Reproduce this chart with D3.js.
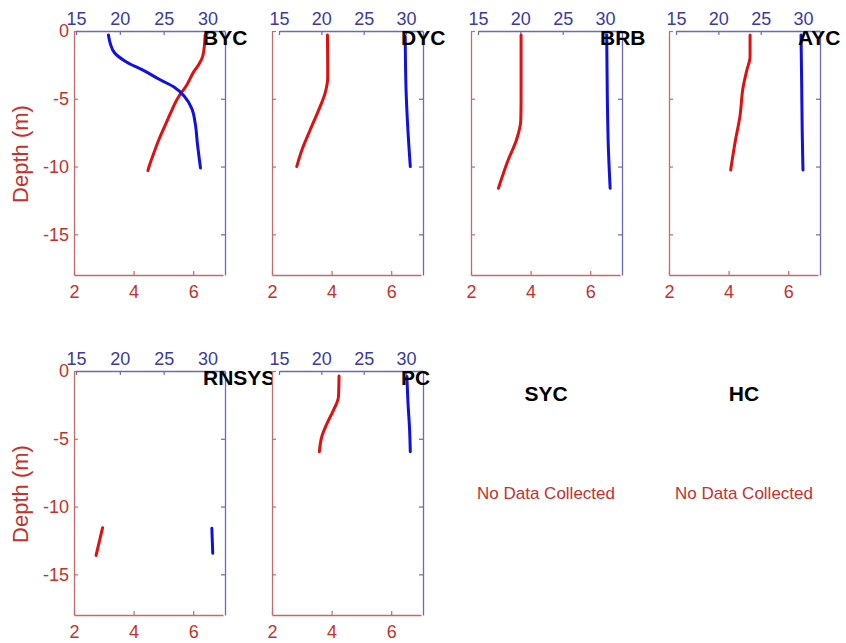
<!DOCTYPE html>
<html><head><meta charset="utf-8">
<script src="https://cdn.jsdelivr.net/npm/d3@7"></script>
<style>body{margin:0;background:#fff}svg{display:block}text{font-family:"Liberation Sans",Arial,sans-serif}</style>
</head><body><svg id="c" width="846" height="643"></svg>
<script>
// ---- data ----
const stations = ["BYC","DYC","BRB","AYC","RNSYS","PC","SYC","HC"];
const depthTicks = [0,-5,-10,-15];
const doTicks = [2,4,6];
const tempTicks = [15,20,25,30];
const doDomain = [2,7];
const tempDomain = [15,32];
const depthDomain = [-18,0];
const noDataText = "No Data Collected";
const yLabel = "Depth (m)";

// dissolved oxygen (bottom red axis) profiles: depth (m, positive down) and value
const BYC_doDepth = [0.3,1,2,2.5,3,4,5,6,7,8,9,10,10.3];
const BYC_do      = [6.40,6.38,6.30,6.18,6.02,5.78,5.47,5.25,5.05,4.85,4.68,4.52,4.48];
const BYC_tDepth  = [0.3,0.9,1.65,2.3,2.9,3.6,4.1,4.85,5.7,6.8,8.3,10.1];
const BYC_temp    = [18.7,18.9,19.45,20.8,22.7,24.6,26.1,27.4,28.2,28.6,28.85,29.2];

const DYC_doDepth = [0.3,3.4,4.6,5.6,7.3,8.8,10.0];
const DYC_do      = [3.86,3.87,3.78,3.61,3.28,3.0,2.83];
const DYC_tDepth  = [0.4,4.35,7.1,10.0];
const DYC_temp    = [29.9,30.0,30.2,30.5];

const BRB_doDepth = [0.3,5.1,6.6,8.0,9.5,11.6];
const BRB_do      = [3.68,3.68,3.67,3.53,3.25,2.92];
const BRB_tDepth  = [0.3,5.1,8.8,11.6];
const BRB_temp    = [30.2,30.27,30.4,30.6];

const AYC_doDepth = [0.3,1.9,2.9,4.1,6.3,8.3,10.25];
const AYC_do      = [4.72,4.72,4.61,4.49,4.38,4.21,4.07];
const AYC_tDepth  = [0.3,4.1,7.4,10.25];
const AYC_temp    = [29.76,29.84,29.9,29.99];

const RNSYS_doDepth = [11.56,13.6];
const RNSYS_do      = [2.96,2.74];
const RNSYS_tDepth  = [11.6,13.45];
const RNSYS_temp    = [30.5,30.6];

const PC_doDepth = [0.37,1.9,2.9,3.9,4.85,5.95];
const PC_do      = [4.25,4.23,4.06,3.84,3.67,3.59];
const PC_tDepth  = [0.4,2.6,4.1,5.95];
const PC_temp    = [30.1,30.25,30.4,30.5];

const profiles = {
  BYC:[BYC_doDepth,BYC_do,BYC_tDepth,BYC_temp],
  DYC:[DYC_doDepth,DYC_do,DYC_tDepth,DYC_temp],
  BRB:[BRB_doDepth,BRB_do,BRB_tDepth,BRB_temp],
  AYC:[AYC_doDepth,AYC_do,AYC_tDepth,AYC_temp],
  RNSYS:[RNSYS_doDepth,RNSYS_do,RNSYS_tDepth,RNSYS_temp],
  PC:[PC_doDepth,PC_do,PC_tDepth,PC_temp]
};

// ---- layout ----
const lefts = [74,272,471,669];
const tops = [31,371];
const W = 149, H = 244;
const RED_AX = "#c46a6a", BLUE_AX = "#6a6ab8";
const RED_TX = "#c8302c", BLUE_TX = "#3a3aa6";
const RED_LN = "#e01010", BLUE_LN = "#1010e0";
const fmt = v => String(v);

const svg = d3.select("#c");

stations.forEach((name,i)=>{
  const col = i%4, row = Math.floor(i/4);
  const L = lefts[col], T = tops[row];
  const g = svg.append("g");
  const prof = profiles[name];
  if(!prof){
    const cx = L + 75;
    g.append("text").attr("x",cx).attr("y",T+30).attr("text-anchor","middle")
      .attr("font-size",21).attr("font-weight","bold").attr("fill","#000").text(name);
    g.append("text").attr("x",cx).attr("y",T+128).attr("text-anchor","middle")
      .attr("font-size",17).attr("fill",RED_TX).text(noDataText);
    return;
  }
  const boff = col===0 ? 2 : 7;
  const xr = d3.scaleLinear().domain(doDomain).range([L, L+W]);
  const xb = d3.scaleLinear().domain(tempDomain).range([L+boff, L+W+2]);
  const y = d3.scaleLinear().domain(depthDomain).range([T+H, T]);

  g.append("rect").attr("x",L).attr("y",T).attr("width",W+2).attr("height",H).attr("fill","#fff");

  const style = (sel,axCol,txCol)=>{
    sel.selectAll("path.domain").attr("stroke",axCol).attr("stroke-width",1.3);
    sel.selectAll(".tick line").attr("stroke",axCol).attr("stroke-width",1.2);
    sel.selectAll(".tick text").attr("fill",txCol).attr("font-size",18)
      .attr("font-family","'Liberation Sans',Arial,sans-serif");
  };

  // red axes (left + bottom)
  const gl = g.append("g").attr("transform",`translate(${L},0)`)
    .call(d3.axisLeft(y).tickValues(depthTicks).tickSizeInner(-4).tickSizeOuter(0).tickPadding(5)
      .tickFormat(col===0 ? fmt : ()=>""));
  style(gl,RED_AX,RED_TX);
  const gb = g.append("g").attr("transform",`translate(0,${T+H})`)
    .call(d3.axisBottom(xr).tickValues(doTicks).tickFormat(fmt).tickSizeInner(-4).tickSizeOuter(0).tickPadding(10));
  style(gb,RED_AX,RED_TX);

  // blue axes (top + right)
  const gt = g.append("g").attr("transform",`translate(0,${T})`)
    .call(d3.axisTop(xb).tickValues(tempTicks).tickFormat(fmt).tickSizeInner(-4).tickSizeOuter(0).tickPadding(6));
  style(gt,BLUE_AX,BLUE_TX);
  const gr = g.append("g").attr("transform",`translate(${L+W+2},0)`)
    .call(d3.axisRight(y).tickValues(depthTicks).tickSizeInner(-4).tickSizeOuter(0).tickFormat(()=>""));
  style(gr,BLUE_AX,BLUE_TX);

  // lines
  const [dd,dv,td,tv] = prof;
  const redPts = dd.map((d,k)=>[xr(dv[k]), y(-d)]);
  const bluePts = td.map((d,k)=>[xb(tv[k]), y(-d)]);
  const line = d3.line().curve(d3.curveMonotoneY);
  g.append("path").attr("d",line(redPts)).attr("fill","none").attr("stroke",RED_LN)
    .attr("stroke-width",3).attr("stroke-linecap","round");
  g.append("path").attr("d",line(bluePts)).attr("fill","none").attr("stroke",BLUE_LN)
    .attr("stroke-width",3).attr("stroke-linecap","round");

  // title
  g.append("text").attr("x",L+129).attr("y",T+14).attr("font-size",21).attr("font-weight","bold")
    .attr("fill","#000").text(name);

  if(col===0){
    g.append("text").attr("transform",`translate(28,${T+123}) rotate(-90)`).attr("text-anchor","middle")
      .attr("font-size",22).attr("fill",RED_TX).text(yLabel);
  }
});
</script></body></html>
